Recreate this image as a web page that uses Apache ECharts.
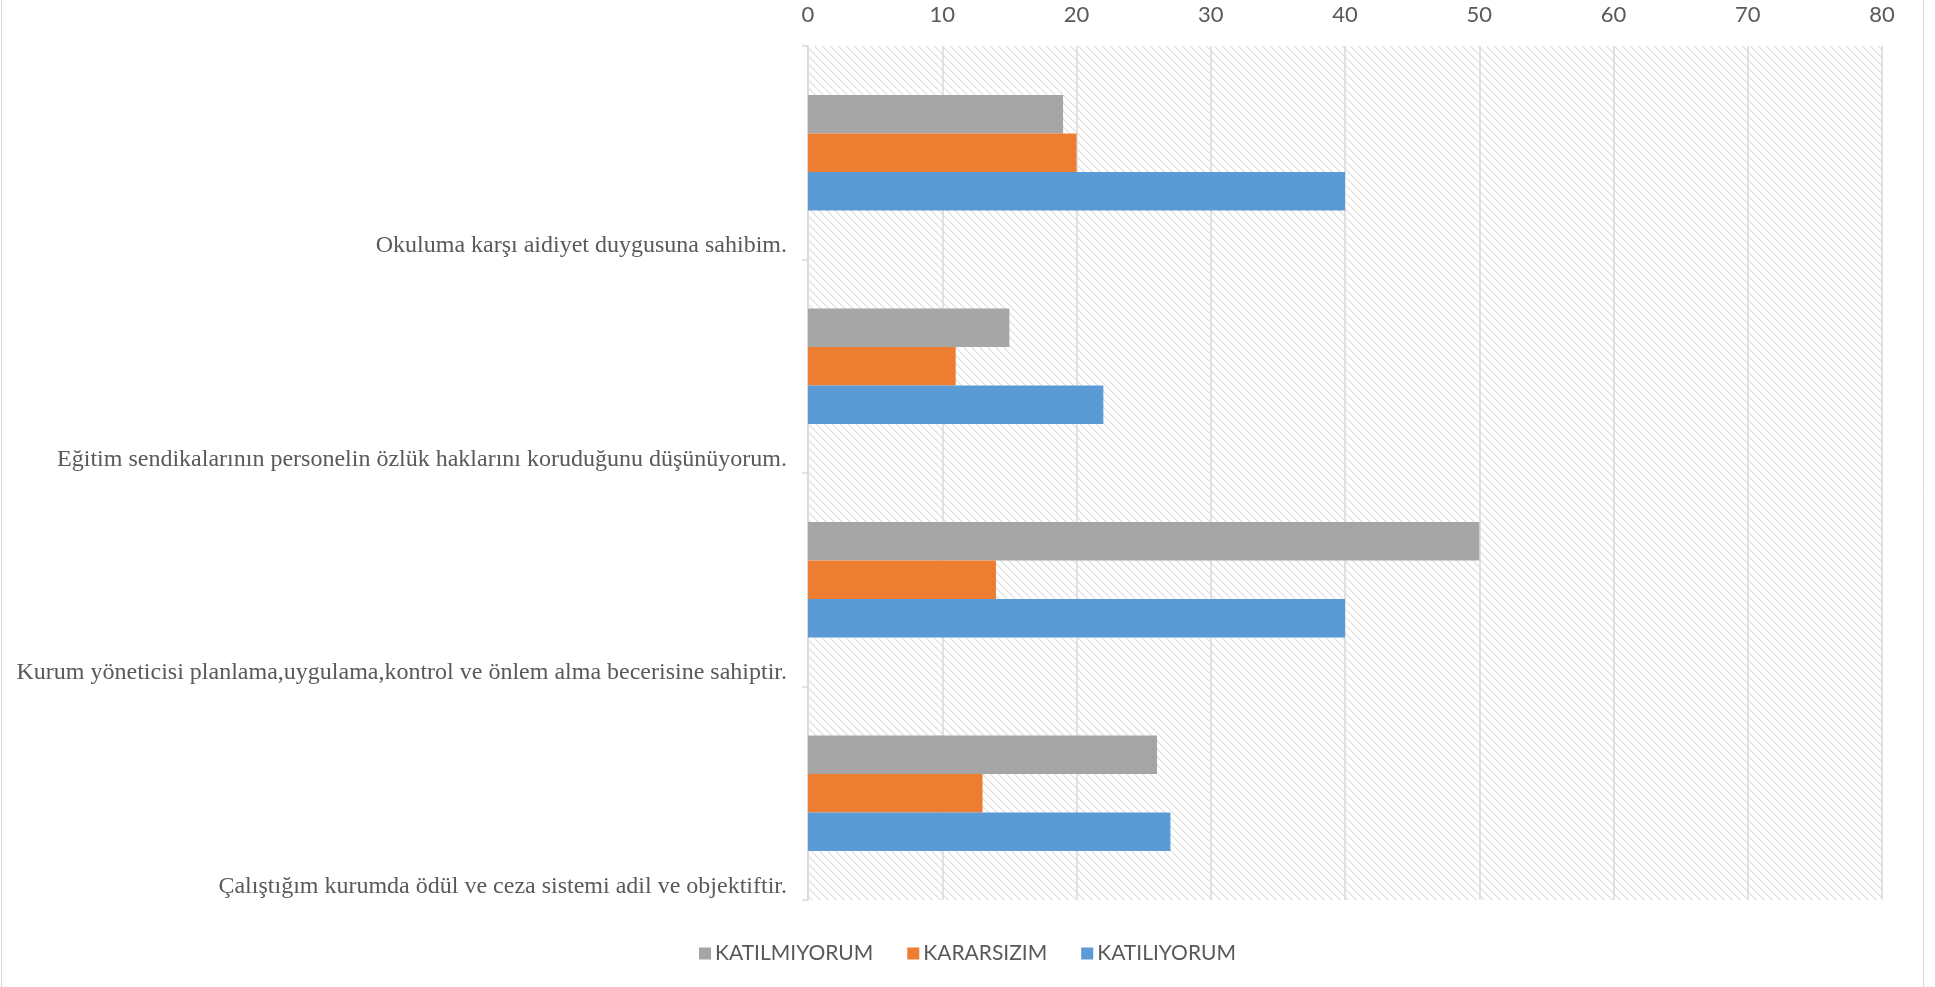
<!DOCTYPE html>
<html>
<head>
<meta charset="utf-8">
<script src="https://cdn.jsdelivr.net/npm/echarts@6/dist/echarts.min.js"></script>
<style>
html,body{margin:0;padding:0;background:#fff;}
#chart{width:1935px;height:987px;}
</style>
</head>
<body>
<div id="chart"></div>
<script>
// ---- data ----
const categories = [
  'Okuluma karşı aidiyet duygusuna sahibim.',
  'Eğitim sendikalarının personelin özlük haklarını koruduğunu düşünüyorum.',
  'Kurum yöneticisi planlama,uygulama,kontrol ve önlem alma becerisine sahiptir.',
  'Çalıştığım kurumda ödül ve ceza sistemi adil ve objektiftir.'
];
const seriesNames = ['KATILMIYORUM', 'KARARSIZIM', 'KATILIYORUM'];
const katilmiyorum = [19, 15, 50, 26];
const kararsizim = [20, 11, 14, 13];
const katiliyorum = [40, 22, 40, 27];
const xTicks = [0, 80, 10]; // min, max, interval

// ---- hatch pattern ----
const tile = document.createElement('canvas');
tile.width = 8; tile.height = 8;
const tctx = tile.getContext('2d');
tctx.fillStyle = '#ffffff';
tctx.fillRect(0, 0, 8, 8);
for (let y = 0; y < 8; y++) {
  tctx.fillStyle = '#dedede';
  tctx.fillRect(y % 8, y, 1, 1);
  tctx.fillStyle = '#ececec';
  tctx.fillRect((y + 1) % 8, y, 1, 1);
}

const colors = ['#A5A5A5', '#ED7D31', '#5B9BD5'];
const seriesData = [katilmiyorum, kararsizim, katiliyorum];

const chart = echarts.init(document.getElementById('chart'), null, {renderer: 'canvas'});
chart.setOption({
  animation: false,
  backgroundColor: '#ffffff',
  color: colors,
  grid: {
    left: 808, right: 53, top: 46, bottom: 87,
    show: true,
    borderWidth: 0,
    backgroundColor: {image: tile, repeat: 'repeat'}
  },
  xAxis: {
    type: 'value',
    position: 'top',
    min: xTicks[0], max: xTicks[1], interval: xTicks[2],
    axisLine: {show: false},
    axisTick: {show: false},
    axisLabel: {color: '#595959', fontSize: 22, fontFamily: 'Lato', margin: 20},
    splitLine: {show: true, lineStyle: {color: '#d9d9d9', width: 1.5}}
  },
  yAxis: {
    type: 'category',
    inverse: true,
    data: categories,
    axisLine: {show: true, lineStyle: {color: '#d9d9d9', width: 1.5}},
    axisTick: {show: true, length: 6, lineStyle: {color: '#d9d9d9', width: 1.5}},
    axisLabel: {
      interval: 0,
      margin: 21,
      verticalAlign: 'middle',
      formatter: function (v) { return '{gap| }\n{t|' + v + '}'; },
      rich: {
        gap: {lineHeight: 186, fontSize: 10},
        t: {color: '#595959', fontSize: 24, lineHeight: 28, fontFamily: 'Liberation Serif'}
      }
    }
  },
  legend: {
    data: seriesNames,
    left: 'center',
    top: 938,
    icon: 'rect',
    itemWidth: 12,
    itemHeight: 12,
    itemGap: 34,
    textStyle: {color: '#595959', fontSize: 21, fontFamily: 'Lato', padding: [0, 0, 0, -1]}
  },
  graphic: [{
    type: 'rect',
    silent: true,
    shape: {x: 1.5, y: -5, width: 1922, height: 1000},
    style: {fill: 'none', stroke: '#d9d9d9', lineWidth: 1}
  }],
  series: seriesNames.map((name, i) => ({
    name: name,
    type: 'bar',
    data: seriesData[i],
    barGap: '0%',
    barCategoryGap: '46%',
    itemStyle: {color: colors[i]}
  }))
});
</script>
</body>
</html>
